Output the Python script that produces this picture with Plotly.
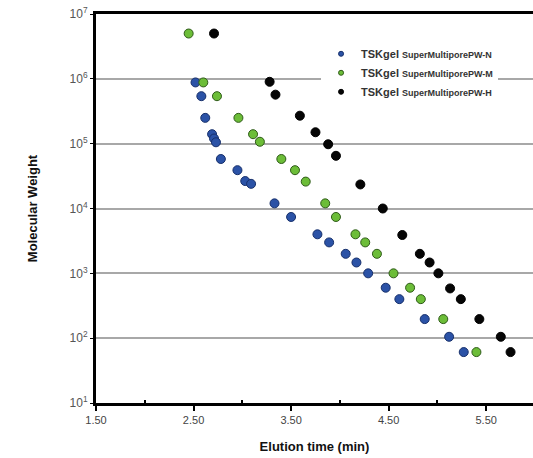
import plotly.graph_objects as go

# ---- data ----
blue_t = [2.52, 2.58, 2.62, 2.69, 2.71, 2.73, 2.78, 2.95, 3.03, 3.09,
          3.33, 3.50, 3.77, 3.89, 4.06, 4.17, 4.29, 4.47, 4.61, 4.87, 5.12, 5.27]
blue_mw = [8.8e5, 5.4e5, 2.5e5, 1.4e5, 1.2e5, 1.05e5, 5.8e4, 3.9e4, 2.65e4, 2.4e4,
           1.2e4, 7.4e3, 4.0e3, 3.0e3, 2.0e3, 1.47e3, 1.0e3, 6.0e2, 4.0e2, 1.97e2, 1.05e2, 61]

green_t = [2.45, 2.60, 2.74, 2.96, 3.11, 3.18, 3.40, 3.54, 3.65, 3.85, 3.96,
           4.16, 4.26, 4.38, 4.55, 4.72, 4.83, 5.06, 5.40]
green_mw = [5.0e6, 8.8e5, 5.4e5, 2.5e5, 1.4e5, 1.07e5, 5.8e4, 3.9e4, 2.6e4, 1.2e4, 7.4e3,
            4.0e3, 3.0e3, 2.0e3, 1.0e3, 6.0e2, 4.0e2, 1.97e2, 61]

black_t = [2.71, 3.28, 3.34, 3.59, 3.75, 3.88, 3.96, 4.21, 4.44,
           4.64, 4.82, 4.92, 5.01, 5.13, 5.24, 5.43, 5.65, 5.75]
black_mw = [5.0e6, 9.0e5, 5.7e5, 2.7e5, 1.5e5, 9.8e4, 6.5e4, 2.35e4, 1.0e4,
            3.9e3, 2.0e3, 1.47e3, 1.0e3, 5.85e2, 4.0e2, 1.97e2, 1.05e2, 61]

series_names = ["<b>TSKgel</b> <b style='font-size:9px'>SuperMultiporePW-N</b>",
                "<b>TSKgel</b> <b style='font-size:9px'>SuperMultiporePW-M</b>",
                "<b>TSKgel</b> <b style='font-size:9px'>SuperMultiporePW-H</b>"]

x_tickvals = [1.5, 2.5, 3.5, 4.5, 5.5]
x_ticktext = ["1.50", "2.50", "3.50", "4.50", "5.50"]
y_tickvals = [1e1, 1e2, 1e3, 1e4, 1e5, 1e6, 1e7]
y_ticktext = ["10<sup>1</sup>", "10<sup>2</sup>", "10<sup>3</sup>", "10<sup>4</sup>",
              "10<sup>5</sup>", "10<sup>6</sup>", "10<sup>7</sup>"]

fills = ["#2b52a6", "#6cbd38", "#050505"]
edges = ["#17306b", "#2e5a18", "#000000"]

fig = go.Figure()
for (t, mw, fc, ec) in [(blue_t, blue_mw, fills[0], edges[0]),
                        (green_t, green_mw, fills[1], edges[1]),
                        (black_t, black_mw, fills[2], edges[2])]:
    fig.add_trace(go.Scatter(x=t, y=mw, mode="markers", showlegend=False,
                             marker=dict(size=9, color=fc, line=dict(color=ec, width=1))))
# legend entries (small markers)
for name, fc, ec in zip(series_names, fills, edges):
    fig.add_trace(go.Scatter(x=[None], y=[None], mode="markers", name=name,
                             marker=dict(size=5, color=fc, line=dict(color=ec, width=1))))

fig.update_layout(
    width=533, height=458,
    margin=dict(l=96, r=0, t=14, b=55),
    paper_bgcolor="white", plot_bgcolor="white",
    font=dict(family="Liberation Sans, Arial, sans-serif", color="#222"),
    showlegend=True,
    legend=dict(x=0.515, y=0.935, xanchor="left", yanchor="top",
                bgcolor="white", borderwidth=0, itemwidth=30,
                font=dict(size=11, color="#333", family="Liberation Sans, Arial, sans-serif"),
                tracegroupgap=0),
    xaxis=dict(range=[1.5, 5.98], tickvals=x_tickvals, ticktext=x_ticktext,
               showgrid=False, zeroline=False,
               showline=True, linecolor="black", linewidth=3, mirror=True,
               ticks="outside", ticklen=5, tickwidth=2, tickcolor="black",
               minor=dict(dtick=1, tick0=2.0, ticks="inside", ticklen=3, tickwidth=2, tickcolor="black"),
               tickfont=dict(size=11, color="#444"),
               title=dict(text="<b>Elution time (min)</b>", font=dict(size=13, color="#111"), standoff=17)),
    yaxis=dict(type="log", range=[1, 7], tickvals=y_tickvals, ticktext=y_ticktext,
               showgrid=True, gridcolor="#a8a8a8", gridwidth=2, zeroline=False,
               showline=True, linecolor="black", linewidth=3,
               ticks="outside", ticklen=3, tickwidth=1, tickcolor="black",
               tickfont=dict(size=12, color="#555"),
               title=dict(text="<b>Molecular Weight</b>", font=dict(size=13, color="#111"), standoff=30)),
)

fig.write_html("out.html")
